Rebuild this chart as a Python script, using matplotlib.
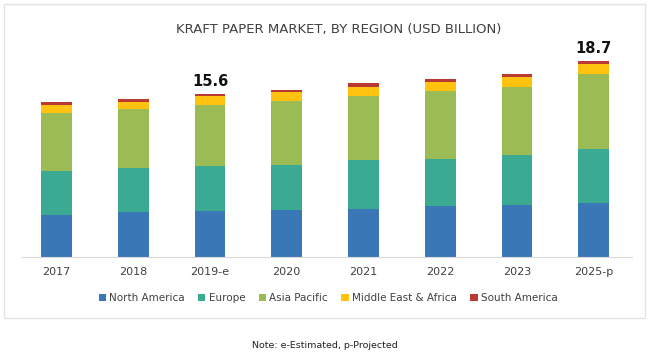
import matplotlib.pyplot as plt
from matplotlib.patches import Rectangle
import numpy as np

years = ['2017', '2018', '2019-e', '2020', '2021', '2022', '2023', '2025-p']
regions = ['North America', 'Europe', 'Asia Pacific', 'Middle East & Africa', 'South America']

north_america = [4.05, 4.27, 4.36, 4.52, 4.58, 4.83, 4.92, 5.15]
europe = [4.20, 4.20, 4.29, 4.29, 4.64, 4.55, 4.77, 5.15]
asia_pacific = [5.50, 5.66, 5.85, 6.07, 6.10, 6.46, 6.56, 7.19]
middle_east_africa = [0.71, 0.70, 0.86, 0.83, 0.86, 0.86, 0.93, 0.93]
south_america = [0.29, 0.29, 0.24, 0.26, 0.38, 0.25, 0.29, 0.28]

# totals shown above selected bars
labels = {2: '15.6', 7: '18.7'}

colors = ['#3a77b7', '#3aaa92', '#9bbb55', '#fec20f', '#b93a33']

fig = plt.figure(figsize=(6.5, 3.57), dpi=100)
ax = fig.add_axes([22/650, 100/357, 610/650, 209.6/357])

x = np.arange(len(years))
series = [north_america, europe, asia_pacific, middle_east_africa, south_america]
bottom = np.zeros(len(years))
for name, vals, c in zip(regions, series, colors):
	ax.bar(x, vals, 0.40, bottom=bottom, color=c, label=name, edgecolor='none')
	bottom += np.array(vals)

for i, txt in labels.items():
	ax.text(x[i], bottom[i] + 0.45, txt, ha='center', va='bottom',
		fontsize=10.5, color='#111111', fontweight='bold')

ax.set_xlim(-0.45, 7.5)
ax.set_ylim(0, 20)
ax.set_xticks(x)
ax.set_xticklabels(years, fontsize=8, color='#404040')
ax.tick_params(axis='x', length=0, pad=7)
ax.set_yticks([])
for s in ['top', 'right', 'left']:
	ax.spines[s].set_visible(False)
ax.spines['bottom'].set_color('#d9d9d9')

fig.text(339/650, 1 - 30/357, 'KRAFT PAPER MARKET, BY REGION (USD BILLION)',
	ha='center', va='center', fontsize=9.5, color='#404040')

fig.legend(loc='center', bbox_to_anchor=(328/650, 1 - 298/357), ncol=5,
	frameon=False, fontsize=7.5, handlelength=0.7, handleheight=0.7,
	handletextpad=0.3, columnspacing=1.3, labelcolor='#404040')

# light frame around the chart
fig.patches.append(Rectangle((4/650, 1 - 318/357), 641/650, 314/357,
	transform=fig.transFigure, fill=False, edgecolor='#e3e3e3', linewidth=1))

fig.text(325/650, 1 - 345/357, 'Note: e-Estimated, p-Projected', ha='center',
	va='center', fontsize=6.8, color='#222222')

plt.savefig('out.png', dpi=100)
